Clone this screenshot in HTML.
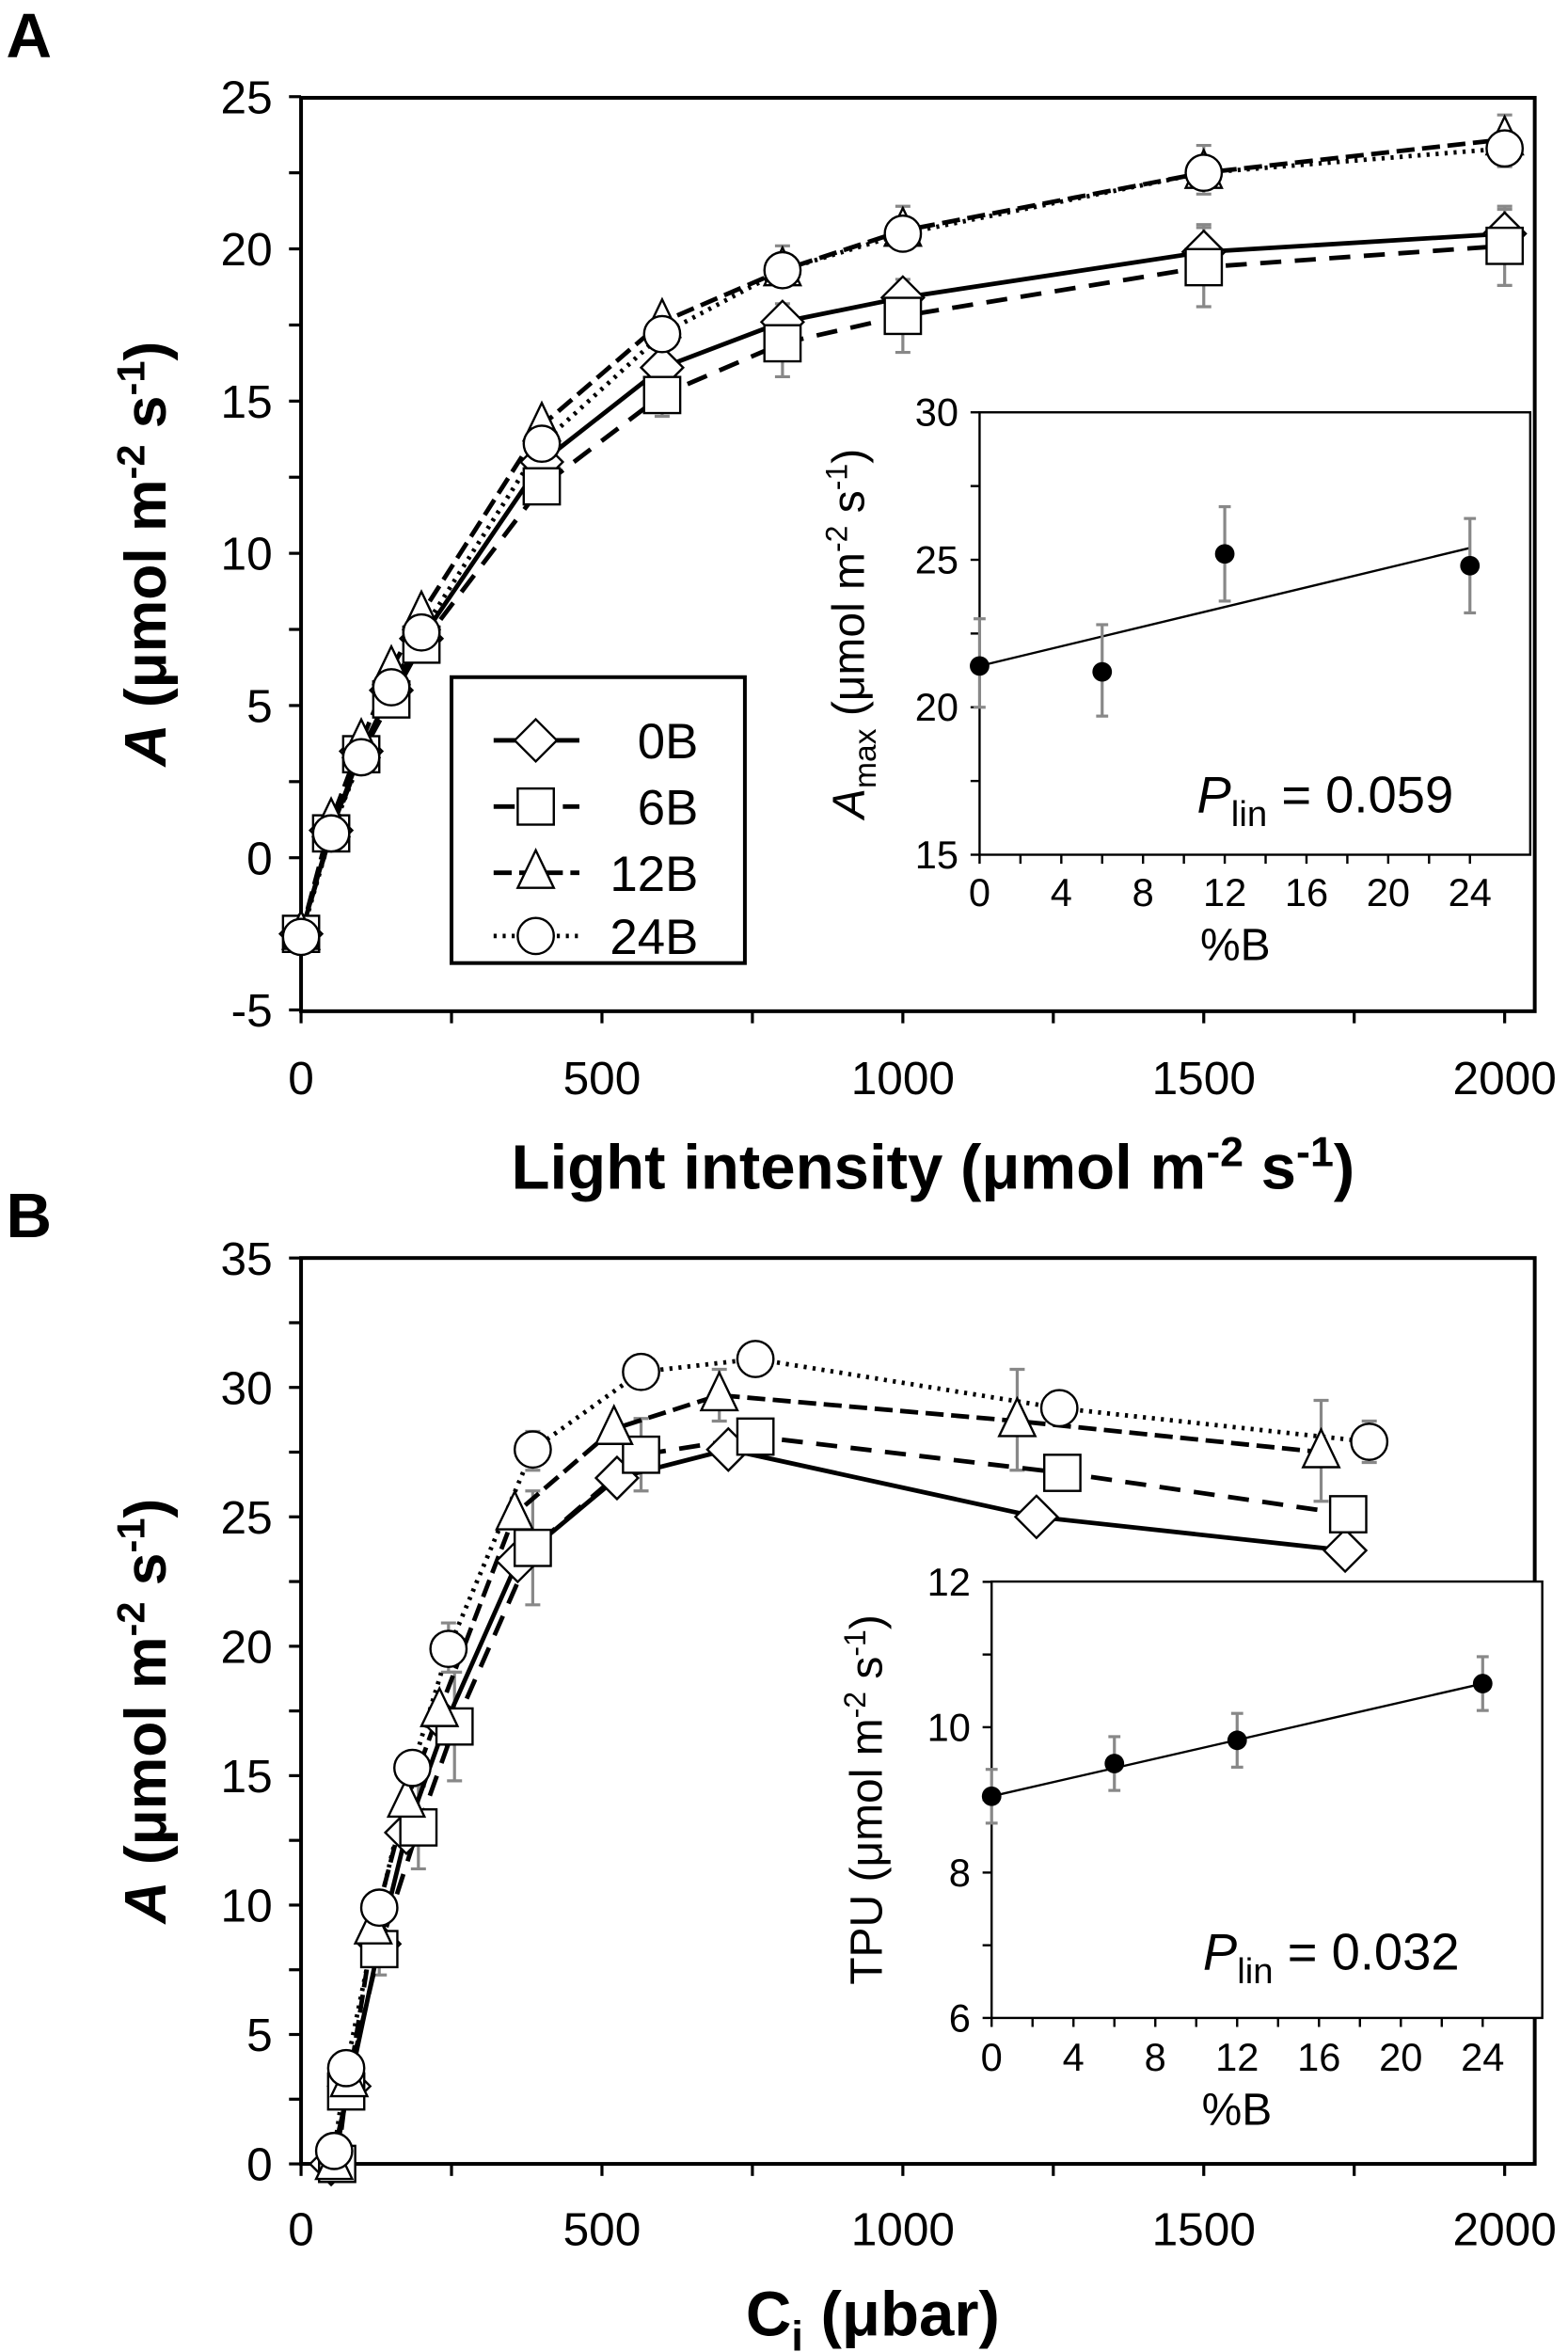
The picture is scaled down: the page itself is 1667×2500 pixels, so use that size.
<!DOCTYPE html>
<html><head><meta charset="utf-8"><style>body{margin:0;background:#fff}svg{display:block}</style></head>
<body>
<svg id="s" width="1667" height="2500" viewBox="0 0 1042 1563" xmlns="http://www.w3.org/2000/svg" font-family="Liberation Sans, Arial, sans-serif">
</svg>
<script>
var o=[];
function P(s){o.push(s);}
function mk(t,x,y){
 if(t=='d')return '<polygon points="'+x+','+(y-14)+' '+(x+14)+','+y+' '+x+','+(y+14)+' '+(x-14)+','+y+'" fill="#fff" stroke="#000" stroke-width="1.5"/>';
 if(t=='s')return '<rect x="'+(x-12)+'" y="'+(y-12)+'" width="24" height="24" fill="#fff" stroke="#000" stroke-width="1.5"/>';
 if(t=='t')return '<polygon points="'+x+','+(y-15)+' '+(x+12)+','+(y+10)+' '+(x-12)+','+(y+10)+'" fill="#fff" stroke="#000" stroke-width="1.5"/>';
 return '<circle cx="'+x+'" cy="'+y+'" r="12" fill="#fff" stroke="#000" stroke-width="1.5"/>';
}
var dash={d:'',s:'14,9',t:'12,5',c:'2,4'};
function panel(X,Y,series,errs){
 errs.forEach(function(e){var x=X(e[0]);P('<line x1="'+x+'" y1="'+Y(e[1])+'" x2="'+x+'" y2="'+Y(e[2])+'" stroke="#888" stroke-width="2"/><line x1="'+(x-5)+'" y1="'+Y(e[1])+'" x2="'+(x+5)+'" y2="'+Y(e[1])+'" stroke="#888" stroke-width="2"/><line x1="'+(x-5)+'" y1="'+Y(e[2])+'" x2="'+(x+5)+'" y2="'+Y(e[2])+'" stroke="#888" stroke-width="2"/>');});
 series.forEach(function(s){P('<polyline fill="none" stroke="#000" stroke-width="3" stroke-dasharray="'+dash[s[0]]+'" points="'+s[1].map(function(p){return X(p[0])+','+Y(p[1])}).join(' ')+'"/>');});
 series.forEach(function(s){s[1].forEach(function(p){P(mk(s[0],X(p[0]),Y(p[1])));});});
}
var TF=31;
// ---------- Panel A ----------
var AX=function(v){return 200+v*0.4},AY=function(v){return 570-v*20.23};
P('<text x="4" y="38" font-size="42" font-weight="bold">A</text>');
P('<rect x="200" y="65" width="820" height="607" fill="none" stroke="#000" stroke-width="2.5"/>');
for(var v=-5;v<=25;v+=2.5){var y=AY(v);P('<line x1="192" y1="'+y+'" x2="200" y2="'+y+'" stroke="#000" stroke-width="2"/>');if(v%5==0)P('<text x="181" y="'+(y+11)+'" font-size="'+TF+'" text-anchor="end">'+v+'</text>');}
for(var v=0;v<=2000;v+=250){var x=AX(v);P('<line x1="'+x+'" y1="672" x2="'+x+'" y2="680" stroke="#000" stroke-width="2"/>');if(v%500==0)P('<text x="'+x+'" y="727" font-size="'+TF+'" text-anchor="middle">'+v+'</text>');}
var LX=[0,50,100,150,200,400,600,800,1000,1500,2000];
function z(a){return LX.map(function(x,i){return [x,a[i]]})}
panel(AX,AY,[
 ['d',z([-2.5,0.9,3.5,5.5,7.2,13,16.1,17.6,18.4,19.9,20.5])],
 ['s',z([-2.5,0.8,3.4,5.2,7.0,12.2,15.2,16.9,17.8,19.4,20.1])],
 ['t',z([-2.5,1.2,3.8,6.2,8.0,14.2,17.6,19.3,20.6,22.5,23.6])],
 ['c',z([-2.6,0.8,3.3,5.6,7.4,13.6,17.2,19.3,20.5,22.5,23.3])]
],[[2000,18.8,21.3],[1500,18.1,20.7],[1000,16.6,19.0],[800,15.8,18.2],[600,14.5,16],[2000,22.7,24.4],[1500,21.8,23.4],[1000,20.5,21.4],[800,19.3,20.1],[2000,20,21.4],[1500,19.5,20.8]]);
P('<text transform="translate(110,368) rotate(-90)" font-size="39" font-weight="bold" text-anchor="middle"><tspan font-style="italic">A</tspan> (μmol m<tspan dy="-14" font-size="26">-2</tspan><tspan dy="14"> s</tspan><tspan dy="-14" font-size="26">-1</tspan><tspan dy="14">)</tspan></text>');
P('<text x="620" y="790" font-size="42" font-weight="bold" text-anchor="middle">Light intensity (μmol m<tspan dy="-15" font-size="28">-2</tspan><tspan dy="15"> s</tspan><tspan dy="-15" font-size="28">-1</tspan><tspan dy="15">)</tspan></text>');
P('<rect x="300" y="450" width="195" height="190" fill="#fff" stroke="#000" stroke-width="2.5"/>');
[['d','0B',492],['s','6B',536],['t','12B',580],['c','24B',622]].forEach(function(l){
 P('<line x1="328" y1="'+l[2]+'" x2="385" y2="'+l[2]+'" stroke="#000" stroke-width="3" stroke-dasharray="'+dash[l[0]]+'"/>'+mk(l[0],356,l[2])+'<text x="464" y="'+(l[2]+12)+'" font-size="33" text-anchor="end">'+l[1]+'</text>');});
var aX=function(v){return 651+v*13.58},aY=function(v){return 568-(v-15)*19.6};
P('<rect x="651" y="274" width="366" height="294" fill="#fff" stroke="#000" stroke-width="1.5"/>');
for(var v=15;v<=30;v+=2.5){var y=aY(v);P('<line x1="645" y1="'+y+'" x2="651" y2="'+y+'" stroke="#000" stroke-width="1.5"/>');if(v%5==0)P('<text x="637" y="'+(y+9)+'" font-size="26" text-anchor="end">'+v+'</text>');}
for(var v=0;v<=24;v+=2){var x=aX(v);P('<line x1="'+x+'" y1="568" x2="'+x+'" y2="574" stroke="#000" stroke-width="1.5"/>');if(v%4==0)P('<text x="'+x+'" y="602" font-size="26" text-anchor="middle">'+v+'</text>');}
P('<text x="821" y="638" font-size="30" text-anchor="middle">%B</text>');
P('<line x1="'+aX(0)+'" y1="'+aY(21.4)+'" x2="'+aX(24)+'" y2="'+aY(25.4)+'" stroke="#000" stroke-width="1.5"/>');
[[0,21.4,20,23],[6,21.2,19.7,22.8],[12,25.2,23.6,26.8],[24,24.8,23.2,26.4]].forEach(function(d){var x=aX(d[0]);P('<line x1="'+x+'" y1="'+aY(d[2])+'" x2="'+x+'" y2="'+aY(d[3])+'" stroke="#888" stroke-width="2"/><line x1="'+(x-4)+'" y1="'+aY(d[2])+'" x2="'+(x+4)+'" y2="'+aY(d[2])+'" stroke="#888" stroke-width="2"/><line x1="'+(x-4)+'" y1="'+aY(d[3])+'" x2="'+(x+4)+'" y2="'+aY(d[3])+'" stroke="#888" stroke-width="2"/><circle cx="'+x+'" cy="'+aY(d[1])+'" r="6.5" fill="#000"/>');});
P('<text transform="translate(574,421) rotate(-90)" font-size="30" text-anchor="middle"><tspan font-style="italic">A</tspan><tspan dy="8" font-size="21">max</tspan><tspan dy="-8"> (μmol m</tspan><tspan dy="-11" font-size="20">-2</tspan><tspan dy="11"> s</tspan><tspan dy="-11" font-size="20">-1</tspan><tspan dy="11">)</tspan></text>');
P('<text x="966" y="540" font-size="34" text-anchor="end"><tspan font-style="italic">P</tspan><tspan dy="9" font-size="24">lin</tspan><tspan dy="-9"> = 0.059</tspan></text>');
// ---------- Panel B ----------
var BX=function(v){return 200+v*0.4},BY=function(v){return 1438-v*17.2};
P('<text x="4" y="822" font-size="42" font-weight="bold">B</text>');
P('<rect x="200" y="836" width="820" height="602" fill="none" stroke="#000" stroke-width="2.5"/>');
for(var v=0;v<=35;v+=2.5){var y=BY(v);P('<line x1="192" y1="'+y+'" x2="200" y2="'+y+'" stroke="#000" stroke-width="2"/>');if(v%5==0)P('<text x="181" y="'+(y+11)+'" font-size="'+TF+'" text-anchor="end">'+v+'</text>');}
for(var v=0;v<=2000;v+=250){var x=BX(v);P('<line x1="'+x+'" y1="1438" x2="'+x+'" y2="1446" stroke="#000" stroke-width="2"/>');if(v%500==0)P('<text x="'+x+'" y="1492" font-size="'+TF+'" text-anchor="middle">'+v+'</text>');}
panel(BX,BY,[
 ['d',[[50,0],[80,3],[130,8.5],[175,12.8],[240,17],[360,23.3],[525,26.5],[710,27.6],[1222,25],[1735,23.7]]],
 ['s',[[60,0],[75,2.8],[130,8.3],[195,13],[255,16.9],[385,23.8],[565,27.4],[755,28.1],[1265,26.7],[1740,25.1]]],
 ['t',[[55,0],[80,3.2],[120,9.1],[175,14],[230,17.5],[355,25.1],[520,28.4],[695,29.7],[1190,28.7],[1695,27.5]]],
 ['c',[[55,0.5],[75,3.7],[130,9.9],[185,15.3],[245,19.9],[385,27.6],[565,30.6],[755,31.1],[1260,29.2],[1775,27.9]]]
],[[385,21.6,26],[255,14.8,19],[195,11.4,14.6],[130,7.3,9.5],[565,26,28.8],[695,28.7,30.7],[1190,26.8,30.7],[1695,25.6,29.5],[1775,27.1,28.7],[385,26.8,28.3],[245,19,20.9]]);
P('<text transform="translate(110,1137) rotate(-90)" font-size="39" font-weight="bold" text-anchor="middle"><tspan font-style="italic">A</tspan> (μmol m<tspan dy="-14" font-size="26">-2</tspan><tspan dy="14"> s</tspan><tspan dy="-14" font-size="26">-1</tspan><tspan dy="14">)</tspan></text>');
P('<text x="580" y="1552" font-size="42" font-weight="bold" text-anchor="middle">C<tspan dy="10" font-size="28">i</tspan><tspan dy="-10"> (μbar)</tspan></text>');
var bX=function(v){return 659+v*13.6},bY=function(v){return 1341-(v-6)*48.3};
P('<rect x="659" y="1051" width="366" height="290" fill="#fff" stroke="#000" stroke-width="1.5"/>');
for(var v=6;v<=12;v+=1){var y=bY(v);P('<line x1="653" y1="'+y+'" x2="659" y2="'+y+'" stroke="#000" stroke-width="1.5"/>');if(v%2==0)P('<text x="645" y="'+(y+9)+'" font-size="26" text-anchor="end">'+v+'</text>');}
for(var v=0;v<=24;v+=2){var x=bX(v);P('<line x1="'+x+'" y1="1341" x2="'+x+'" y2="1347" stroke="#000" stroke-width="1.5"/>');if(v%4==0)P('<text x="'+x+'" y="1376" font-size="26" text-anchor="middle">'+v+'</text>');}
P('<text x="822" y="1412" font-size="30" text-anchor="middle">%B</text>');
P('<line x1="'+bX(0)+'" y1="'+bY(9.05)+'" x2="'+bX(24)+'" y2="'+bY(10.6)+'" stroke="#000" stroke-width="1.5"/>');
[[0,9.05],[6,9.5],[12,9.82],[24,10.6]].forEach(function(d){var x=bX(d[0]);P('<line x1="'+x+'" y1="'+bY(d[1]-0.37)+'" x2="'+x+'" y2="'+bY(d[1]+0.37)+'" stroke="#888" stroke-width="2"/><line x1="'+(x-4)+'" y1="'+bY(d[1]-0.37)+'" x2="'+(x+4)+'" y2="'+bY(d[1]-0.37)+'" stroke="#888" stroke-width="2"/><line x1="'+(x-4)+'" y1="'+bY(d[1]+0.37)+'" x2="'+(x+4)+'" y2="'+bY(d[1]+0.37)+'" stroke="#888" stroke-width="2"/><circle cx="'+x+'" cy="'+bY(d[1])+'" r="6.5" fill="#000"/>');});
P('<text transform="translate(586,1196) rotate(-90)" font-size="30" text-anchor="middle">TPU (μmol m<tspan dy="-11" font-size="20">-2</tspan><tspan dy="11"> s</tspan><tspan dy="-11" font-size="20">-1</tspan><tspan dy="11">)</tspan></text>');
P('<text x="970" y="1309" font-size="34" text-anchor="end"><tspan font-style="italic">P</tspan><tspan dy="9" font-size="24">lin</tspan><tspan dy="-9"> = 0.032</tspan></text>');
document.getElementById('s').innerHTML=o.join('');
</script>
</body></html>
